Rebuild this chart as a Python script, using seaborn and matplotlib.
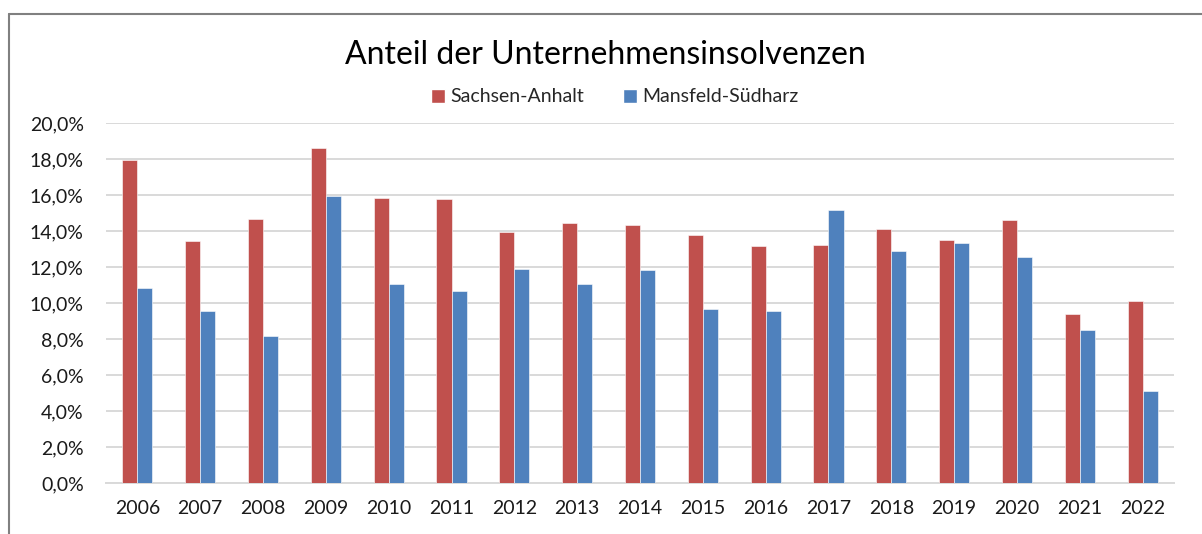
import numpy as np
import pandas as pd
import matplotlib
matplotlib.use("Agg")
import matplotlib.pyplot as plt
import seaborn as sns
from matplotlib.patches import Patch
from matplotlib.lines import Line2D
from matplotlib.ticker import FuncFormatter, MultipleLocator

# ---- data (percent) ----
years = [str(y) for y in range(2006, 2023)]
sachsen_anhalt = [17.95, 13.43, 14.65, 18.6, 15.84, 15.8, 13.93, 14.43, 14.32,
                  13.76, 13.15, 13.2, 14.13, 13.48, 14.61, 9.38, 10.1]
mansfeld_suedharz = [10.86, 9.58, 8.15, 15.97, 11.05, 10.64, 11.87, 11.03, 11.81,
                     9.64, 9.56, 15.15, 12.87, 13.33, 12.57, 8.49, 5.09]
series = ["Sachsen-Anhalt", "Mansfeld-Südharz"]
colors = ["#C0504D", "#4F81BD"]

df = pd.DataFrame({
    "Jahr": years * 2,
    "Anteil": sachsen_anhalt + mansfeld_suedharz,
    "Region": [series[0]] * len(years) + [series[1]] * len(years),
})

sns.set_style("white")
plt.rcParams["font.family"] = ["Lato", "DejaVu Sans"]

fig = plt.figure(figsize=(12.02, 5.34), dpi=100)
ax = fig.add_axes([106 / 1202, 51 / 534, 1068 / 1202, 360 / 534])

sns.barplot(data=df, x="Jahr", y="Anteil", hue="Region", hue_order=series,
            palette=colors, width=0.48, saturation=1, edgecolor="white",
            linewidth=0.4, legend=False, ax=ax, zorder=3)

ax.set_xlim(-0.5, len(years) - 0.5)
ax.set_ylim(0, 20)
ax.yaxis.set_major_locator(MultipleLocator(2))
ax.yaxis.set_major_formatter(FuncFormatter(lambda v, p: f"{v:.1f}".replace(".", ",") + "%"))
ax.grid(axis="y", color="#D9D9D9", linewidth=1.4, zorder=0)
ax.set_axisbelow(True)
for s in ["top", "right", "left"]:
    ax.spines[s].set_visible(False)
ax.spines["bottom"].set_color("#D9D9D9")
ax.spines["bottom"].set_linewidth(1.4)
ax.set_xlabel("")
ax.set_ylabel("")
ax.tick_params(axis="x", length=0, pad=12, labelsize=14, colors="#1A1A1A")
ax.tick_params(axis="y", length=0, pad=16, labelsize=14, colors="#1A1A1A")

fig.text(605 / 1202, 1 - 55 / 534, "Anteil der Unternehmensinsolvenzen",
         ha="center", va="center", fontsize=23, color="black")

handles = [Patch(facecolor=c, label=l) for c, l in zip(colors, series)]
fig.legend(handles=handles, loc="center", bbox_to_anchor=(615 / 1202, 1 - 97 / 534),
           ncol=2, frameon=False, fontsize=14, handlelength=0.7, handleheight=0.7,
           handletextpad=0.3, columnspacing=2.0)

# chart frame
fig.add_artist(Line2D([8.5 / 1202, 8.5 / 1202], [0, 1 - 13.5 / 534],
                      transform=fig.transFigure, color="#808080", linewidth=1.5))
fig.add_artist(Line2D([8.5 / 1202, 1], [1 - 13.5 / 534, 1 - 13.5 / 534],
                      transform=fig.transFigure, color="#808080", linewidth=1.5))

fig.savefig("out.png", dpi=100)
